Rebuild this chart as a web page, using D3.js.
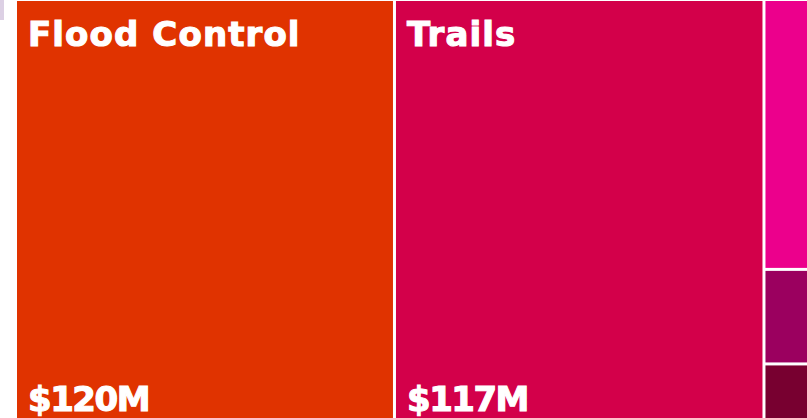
<!DOCTYPE html>
<html>
<head>
<meta charset="utf-8">
<script src="https://cdn.jsdelivr.net/npm/d3@7"></script>
<style>
  body { margin: 0; background: #fff; }
  svg { display: block; }
  .cell-label { fill: #fff; stroke: #fff; stroke-width: 1.1px; font-family: "DejaVu Sans", sans-serif; font-weight: bold; font-size: 34px; }
</style>
</head>
<body>
<div id="chart"></div>
<script>
// bond categories and their amounts ($M)
var bigCategories = ["Flood Control", "Trails"];
var bigValues = [120, 117];
// the narrow column on the right
var smallCategories = ["Parks", "Greenways", "Water Quality"];
var smallValues = [8.85, 3.1, 2.15];

var colors = d3.scaleOrdinal()
  .domain(bigCategories.concat(smallCategories))
  .range(["#e03300", "#d3004a", "#ec008c", "#9b005f", "#780030"]);

var width = 807, height = 418;
// the treemap runs past the bottom of the window
var margin = { top: 1, left: 17, bottom: -10 };

var data = {
  name: "root",
  children: bigCategories.map((c, i) => ({ name: c, value: bigValues[i] }))
    .concat([{ name: "Other", children: smallCategories.map((c, i) => ({ name: c, value: smallValues[i] })) }])
};

var root = d3.hierarchy(data).sum(d => d.value || 0);

d3.treemap()
  .tile(d3.treemapSliceDice)
  .size([width - margin.left, height - margin.top - margin.bottom])
  .paddingInner(3)
  .round(false)(root);

var svg = d3.select("#chart")
  .append("svg")
  .attr("width", width)
  .attr("height", height);

// small lavender tab in the top-left corner
svg.append("rect")
  .attr("x", 0).attr("y", 0)
  .attr("width", 4).attr("height", 20)
  .attr("fill", "#dcd0e4");

var g = svg.append("g")
  .attr("transform", "translate(" + margin.left + "," + margin.top + ")");

var leaves = g.selectAll("g.cell")
  .data(root.leaves())
  .enter()
  .append("g")
  .attr("class", "cell")
  .attr("transform", d => "translate(" + d.x0 + "," + d.y0 + ")");

leaves.append("rect")
  .attr("width", d => d.x1 - d.x0)
  .attr("height", d => d.y1 - d.y0)
  .attr("fill", d => colors(d.data.name));

// only label cells wide enough to hold the text
var labelled = leaves.filter(d => d.x1 - d.x0 > 100);

labelled.append("text")
  .attr("class", "cell-label")
  .attr("x", 11)
  .attr("y", 45)
  .attr("letter-spacing", 1.1)
  .text(d => d.data.name);

labelled.append("text")
  .attr("class", "cell-label")
  .attr("x", 11)
  .attr("y", d => d.y1 - d.y0 - 17)
  .attr("letter-spacing", -1.5)
  .text(d => "$" + d.data.value + "M");
</script>
</body>
</html>
